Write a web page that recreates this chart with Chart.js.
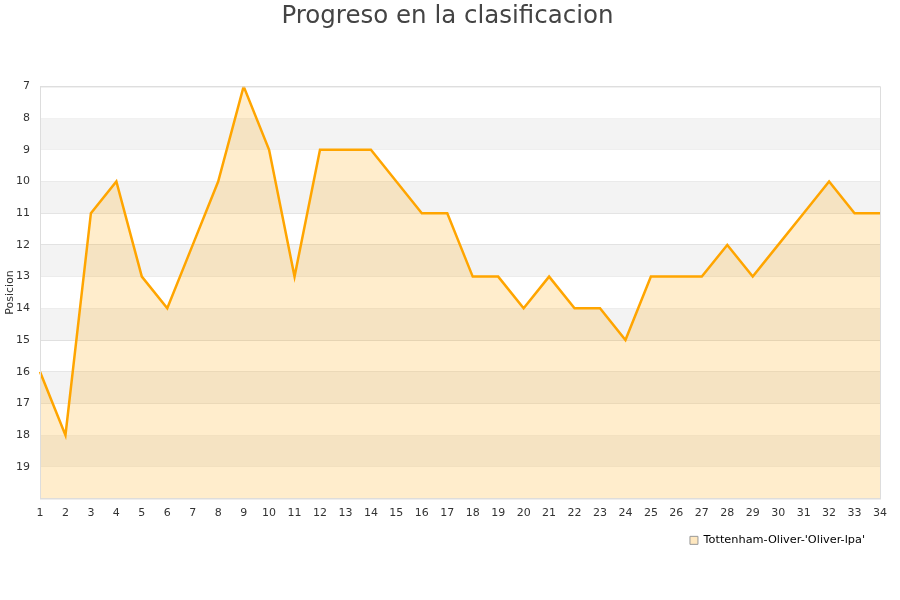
<!DOCTYPE html>
<html>
<head>
<meta charset="utf-8">
<script src="https://cdn.jsdelivr.net/npm/chart.js@4/dist/chart.umd.min.js"></script>
<style>
  html, body { margin: 0; padding: 0; background: #fff; }
  #wrap { width: 900px; height: 600px; }
</style>
</head>
<body>
<div id="wrap"><canvas id="chart" width="900" height="600"></canvas></div>
<script>
const jornadas = ['1','2','3','4','5','6','7','8','9','10','11','12','13','14','15','16','17',
  '18','19','20','21','22','23','24','25','26','27','28','29','30','31','32','33','34'];
const posiciones = [16, 18, 11, 10, 13, 14, 12, 10, 7, 9, 13, 9, 9, 9, 10, 11, 11,
  13, 13, 14, 13, 14, 14, 15, 13, 13, 13, 12, 13, 12, 11, 10, 11, 11];
const grayBands = [[8, 9], [10, 11], [12, 13], [14, 15], [16, 17], [18, 19]];
const serieNombre = "Tottenham-Oliver-'Oliver-lpa'";

// alternating grey stripes behind the data
const bandsPlugin = {
  id: 'bands',
  beforeDatasetsDraw(chart) {
    const { ctx, chartArea, scales } = chart;
    ctx.save();
    ctx.fillStyle = '#f3f3f3';
    grayBands.forEach(([a, b]) => {
      const y1 = scales.y.getPixelForValue(a);
      const y2 = scales.y.getPixelForValue(b);
      ctx.fillRect(chartArea.left, y1, chartArea.right - chartArea.left, y2 - y1);
    });
    ctx.restore();
  },
  afterDatasetsDraw(chart) {
    const { ctx, chartArea } = chart;
    ctx.save();
    ctx.strokeStyle = '#dddddd';
    ctx.lineWidth = 1;
    ctx.strokeRect(chartArea.left + 0.5, chartArea.top + 0.5,
      chartArea.right - chartArea.left, chartArea.bottom - chartArea.top);
    ctx.restore();
  }
};

const ctx = document.getElementById('chart').getContext('2d');
new Chart(ctx, {
  type: 'line',
  data: {
    labels: jornadas,
    datasets: [{
      label: serieNombre,
      data: posiciones,
      borderColor: '#ffa500',
      backgroundColor: 'rgba(255,165,0,0.2)',
      borderWidth: 2.5,
      pointRadius: 0,
      tension: 0,
      fill: 'start'
    }]
  },
  options: {
    responsive: false,
    animation: false,
    layout: { padding: { left: 15, right: 20, top: 0, bottom: 44 } },
    plugins: {
      title: {
        display: true,
        text: 'Progreso en la clasificacion',
        color: '#444',
        font: { family: 'DejaVu Sans', size: 24.5, weight: 'normal' },
        padding: { top: 2, bottom: 55 }
      },
      legend: {
        position: 'bottom',
        align: 'end',
        fullSize: false,
        labels: {
          color: '#111',
          boxWidth: 8,
          boxHeight: 8,
          padding: 15,
          font: { family: 'DejaVu Sans', size: 11.3 },
          generateLabels(chart) {
            return [{
              text: serieNombre,
              fillStyle: '#ffe8c0',
              strokeStyle: '#999',
              lineWidth: 1,
              datasetIndex: 0
            }];
          }
        }
      },
      tooltip: { enabled: false }
    },
    scales: {
      x: {
        offset: false,
        grid: { display: false },
        border: { display: false },
        ticks: { padding: 0, color: '#333', font: { family: 'DejaVu Sans', size: 11 }, maxRotation: 0, autoSkip: false }
      },
      y: {
        reverse: true,
        min: 7,
        max: 20,
        afterFit(scale) { scale.width = 25; },
        title: {
          display: true, text: 'Posicion', color: '#333',
          padding: { top: -11, bottom: 0 },
          font: { family: 'DejaVu Sans', size: 11 }
        },
        grid: { color: '#e0e0e0', drawTicks: false },
        border: { display: false },
        ticks: {
          stepSize: 1,
          padding: 10,
          color: '#333',
          font: { family: 'DejaVu Sans', size: 11 },
          callback: v => (v === 20 ? '' : v)
        }
      }
    }
  },
  plugins: [bandsPlugin]
});
</script>
</body>
</html>
